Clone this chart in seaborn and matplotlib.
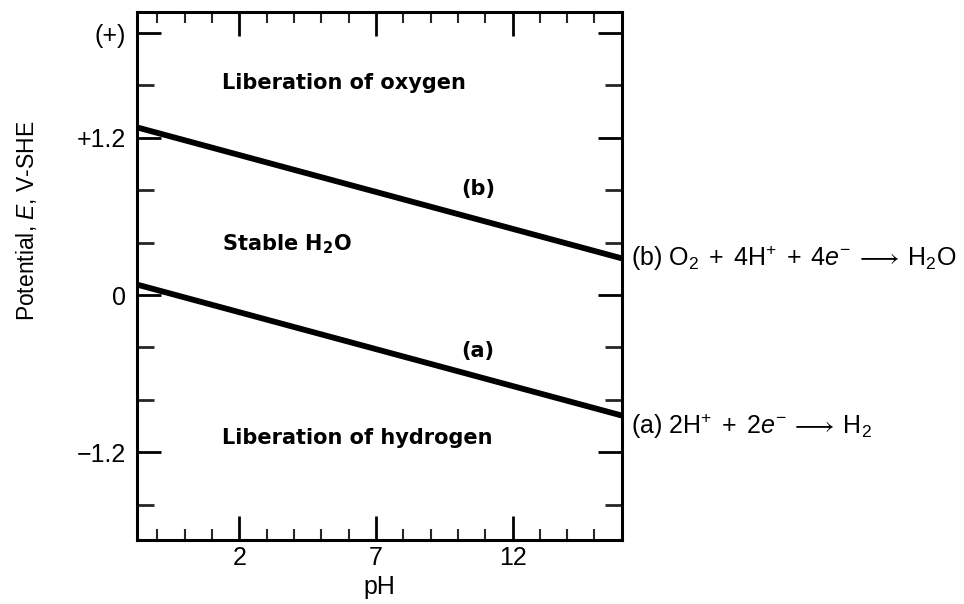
import matplotlib
matplotlib.use("Agg")
import matplotlib.pyplot as plt
import seaborn as sns
import pandas as pd
from matplotlib.ticker import FixedLocator

# ---- data ----
ph_ends = [-1.75, 16.0]
E_b = [1.28, 0.28]     # O2 + 4H+ + 4e- -> H2O
E_a = [0.08, -0.92]    # 2H+ + 2e- -> H2
x_major = [2, 7, 12]
x_major_labels = ["2", "7", "12"]
x_minor = [-1, 0, 1, 3, 4, 5, 6, 8, 9, 10, 11, 13, 14, 15]
y_major = [-1.2, 0.0, 1.2, 2.0]
y_major_labels = ["\u22121.2", "0", "+1.2", "(+)"]
y_minor = [-1.6, -0.8, -0.4, 0.4, 0.8, 1.6]

df = pd.DataFrame({
    "pH": ph_ends + ph_ends,
    "E": E_b + E_a,
    "line": ["b", "b", "a", "a"],
})

sns.set_theme(style="white")
plt.rcParams["font.family"] = ["Liberation Sans", "DejaVu Sans"]
plt.rcParams["mathtext.fontset"] = "custom"
plt.rcParams["mathtext.rm"] = "Liberation Sans"
plt.rcParams["mathtext.it"] = "Liberation Sans:italic"
plt.rcParams["mathtext.bf"] = "DejaVu Sans:bold"
plt.rcParams["text.color"] = "black"
plt.rcParams["axes.labelcolor"] = "black"

fig = plt.figure(figsize=(9.64, 6.04), dpi=100)
ax = fig.add_axes([0.142, 0.106, 0.503, 0.874])

sns.lineplot(data=df, x="pH", y="E", units="line", estimator=None,
             color="black", linewidth=4.2, ax=ax, legend=False)

ax.set_xlim(-1.75, 16.0)
ax.set_ylim(-1.87, 2.16)

for sp in ax.spines.values():
    sp.set_linewidth(2.2)
    sp.set_color("black")

ax.xaxis.set_major_locator(FixedLocator(x_major))
ax.set_xticklabels(x_major_labels)
ax.xaxis.set_minor_locator(FixedLocator(x_minor))
ax.yaxis.set_major_locator(FixedLocator(y_major))
ax.set_yticklabels(y_major_labels)
ax.yaxis.set_minor_locator(FixedLocator(y_minor))

ax.tick_params(axis="x", which="major", direction="in", length=17, width=2,
               top=True, bottom=True, labelsize=18, pad=4, colors="black")
ax.tick_params(axis="x", which="minor", direction="in", length=8, width=1.5,
               top=True, bottom=True)
ax.tick_params(axis="y", which="major", direction="in", length=17, width=2,
               left=True, right=True, labelsize=18, pad=8, colors="black")
ax.tick_params(axis="y", which="minor", direction="in", length=12, width=2,
               left=True, right=True)

ax.set_xlabel("pH", fontsize=18, labelpad=4, color="black")
ax.set_ylabel("Potential, $\\mathit{E}$, V-SHE", fontsize=16.5, color="black")
ax.yaxis.set_label_coords(-0.202, 0.604)

bold = dict(fontsize=15, fontweight="bold", color="black", family="DejaVu Sans")
ax.text(1.36, 1.62, "Liberation of oxygen", ha="left", va="center", **bold)
ax.text(10.74, 0.81, "(b)", ha="center", va="center", **bold)
ax.text(1.36, 0.39, "Stable H$_\\mathbf{2}$O", ha="left", va="center", **bold)
ax.text(10.74, -0.43, "(a)", ha="center", va="center", **bold)
ax.text(1.36, -1.09, "Liberation of hydrogen", ha="left", va="center", **bold)

lab_b = r"$\mathrm{(b)\ O_2\;+\;4H^{+}\;+\;4}\mathit{e}^{-}\:\longrightarrow\:\mathrm{H_2O}$"
lab_a = r"$\mathrm{(a)\ 2H^{+}\;+\;2}\mathit{e}^{-}\:\longrightarrow\:\mathrm{H_2}$"
ax.text(1.02, E_b[1], lab_b, transform=ax.get_yaxis_transform(),
        ha="left", va="center", fontsize=18, color="black")
ax.text(1.02, E_a[1] - 0.08, lab_a, transform=ax.get_yaxis_transform(),
        ha="left", va="center", fontsize=18, color="black")

fig.savefig("out.png", dpi=100)
